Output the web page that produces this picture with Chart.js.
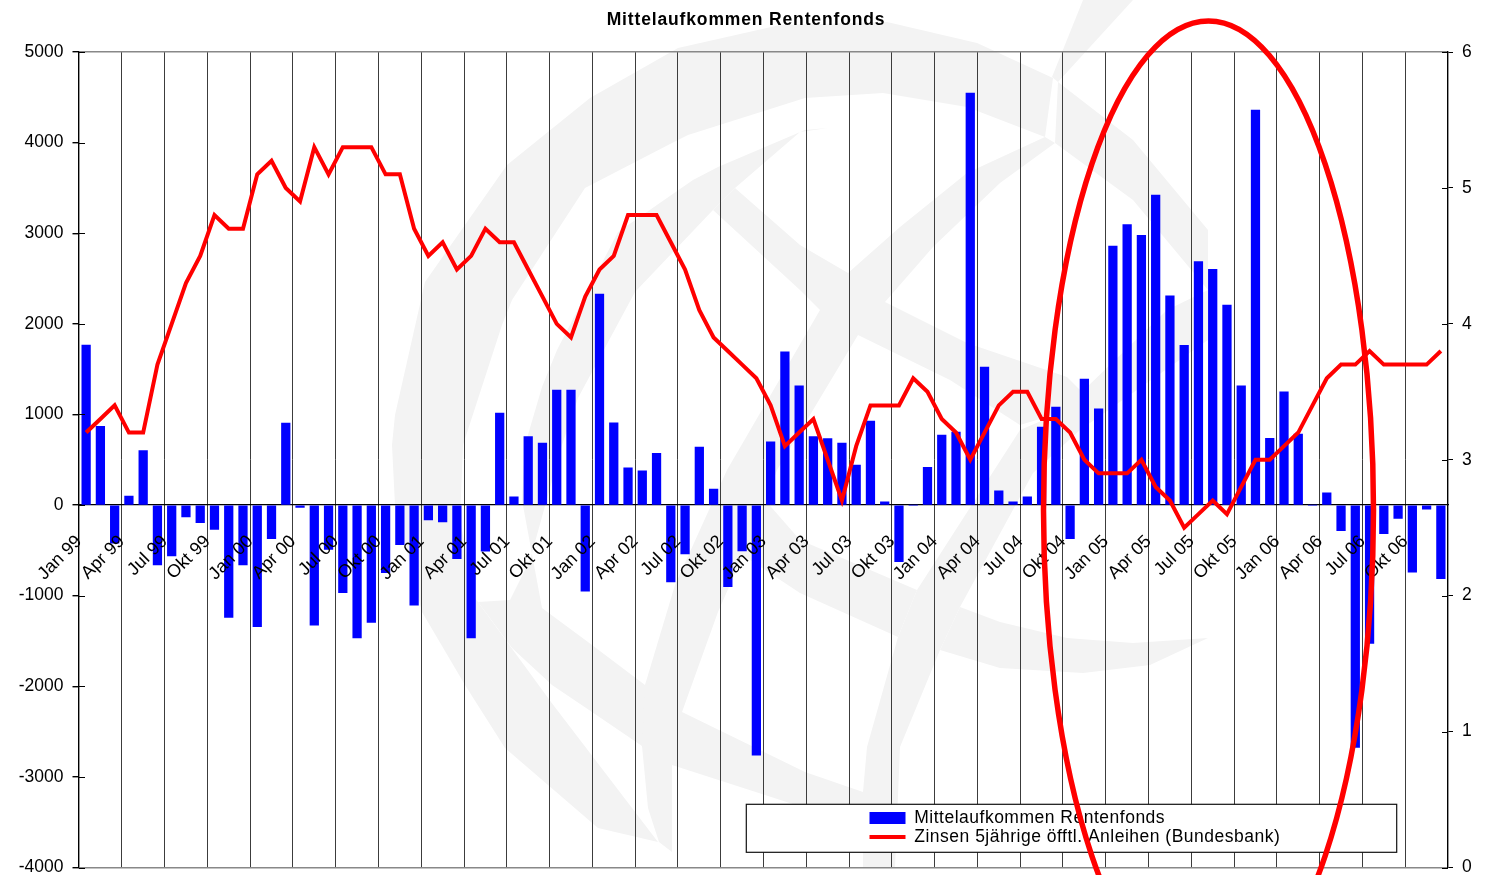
<!DOCTYPE html>
<html lang="de"><head><meta charset="utf-8"><title>Mittelaufkommen Rentenfonds</title>
<style>html,body{margin:0;padding:0;background:#fff}canvas{display:block}</style>
<script src="https://cdn.jsdelivr.net/npm/chart.js@4/dist/chart.umd.min.js"></script>
</head><body><canvas id="c" width="1485" height="875"></canvas>
<script>
const categories = [
 'Jan 99','Feb 99','Mrz 99','Apr 99','Mai 99','Jun 99','Jul 99','Aug 99','Sep 99','Okt 99','Nov 99','Dez 99',
 'Jan 00','Feb 00','Mrz 00','Apr 00','Mai 00','Jun 00','Jul 00','Aug 00','Sep 00','Okt 00','Nov 00','Dez 00',
 'Jan 01','Feb 01','Mrz 01','Apr 01','Mai 01','Jun 01','Jul 01','Aug 01','Sep 01','Okt 01','Nov 01','Dez 01',
 'Jan 02','Feb 02','Mrz 02','Apr 02','Mai 02','Jun 02','Jul 02','Aug 02','Sep 02','Okt 02','Nov 02','Dez 02',
 'Jan 03','Feb 03','Mrz 03','Apr 03','Mai 03','Jun 03','Jul 03','Aug 03','Sep 03','Okt 03','Nov 03','Dez 03',
 'Jan 04','Feb 04','Mrz 04','Apr 04','Mai 04','Jun 04','Jul 04','Aug 04','Sep 04','Okt 04','Nov 04','Dez 04',
 'Jan 05','Feb 05','Mrz 05','Apr 05','Mai 05','Jun 05','Jul 05','Aug 05','Sep 05','Okt 05','Nov 05','Dez 05',
 'Jan 06','Feb 06','Mrz 06','Apr 06','Mai 06','Jun 06','Jul 06','Aug 06','Sep 06','Okt 06','Nov 06','Dez 06'];
const mittelaufkommen = [
 1765,870,-420,100,600,-660,-560,-130,-195,-270,-1240,-660,
 -1343,-372,905,-25,-1325,-490,-968,-1465,-1295,-747,-438,-1105,
 -165,-185,-593,-1465,-508,1015,90,755,684,1270,1270,-950,
 2329,908,410,378,572,-847,-540,640,175,-900,-505,-2760,
 698,1692,1317,755,735,684,441,927,36,-626,0,417,
 772,805,4547,1523,158,36,92,860,1080,-372,1390,1063,
 2859,3094,2976,3422,2310,1762,2686,2601,2208,1317,4360,736,
 1250,784,0,136,-284,-2675,-1527,-317,-148,-742,-45,-813];
const zinsen = [
 3.2,3.3,3.4,3.2,3.2,3.7,4.0,4.3,4.5,4.8,4.7,4.7,
 5.1,5.2,5.0,4.9,5.3,5.1,5.3,5.3,5.3,5.1,5.1,4.7,
 4.5,4.6,4.4,4.5,4.7,4.6,4.6,4.4,4.2,4.0,3.9,4.2,
 4.4,4.5,4.8,4.8,4.8,4.6,4.4,4.1,3.9,3.8,3.7,3.6,
 3.4,3.1,3.2,3.3,3.0,2.7,3.1,3.4,3.4,3.4,3.6,3.5,
 3.3,3.2,3.0,3.2,3.4,3.5,3.5,3.3,3.3,3.2,3.0,2.9,
 2.9,2.9,3.0,2.8,2.7,2.5,2.6,2.7,2.6,2.8,3.0,3.0,
 3.1,3.2,3.4,3.6,3.7,3.7,3.8,3.7,3.7,3.7,3.7,3.8];
const seriesNames = ['Mittelaufkommen Rentenfonds','Zinsen 5jährige öfftl. Anleihen (Bundesbank)'];
const chartTitle = 'Mittelaufkommen Rentenfonds';

const FONT = "'Liberation Sans', Arial, sans-serif";
const legendBox = {left:746.3, top:804.3, right:1396.7, bottom:852.3};

// Faint background logo outlines
const watermark = [
 'M1053 78L977 43L887 22L780 25L678 48L590 98L507 165L425 282L395 415L392 445L395 505L422 612L465 685L505 748L598 828L658 842L551 702L475 598L460 520L463 445L502 325L512 300L585 188L672 143L688 135L805 98L883 93L967 107L1045 137Z',
 'M1058 82L1133 140L1208 230L1208 290L1133 200L1055 143Z',
 'M1083 0L1133 0L1058 82L1052 77Z',
 'M828 128L805 130L718 167L693 180L618 232L557 350L542 387L525 445L522 500L542 608L592 645L645 685L682 712L805 772L863 792L863 810L805 808L765 795L672 765L642 746L592 712L552 685L512 648L478 602L510 600L530 560L562 445L578 398L635 292L713 210L735 188L800 132Z',
 'M848 273L900 227L967 173L1045 137L1055 143L1000 183L933 247L885 302L858 335L777 470L762 512L718 612L682 712L672 765L672 852L659 842L648 808L642 746L645 685L675 585L727 470L820 310Z',
 'M735 188L800 245L848 273L885 302L967 343L1067 377L1085 395L1060 413L1020 425L950 380L858 335L820 310L800 290L713 210Z',
 'M1208 290L1167 310L1060 413L1020 430L917 590L898 637L867 747L863 792L863 868L895 868L900 747L940 650L960 607L1033 473L1080 430L1208 340Z',
 'M765 500L800 540L917 590L898 637L800 593L735 550Z',
 'M940 650L1000 668L1083 673L1150 665L1208 638L1133 643L1067 638L1000 622L960 607Z'
];

const zeroPadding = s => { s.paddingTop = s.paddingBottom = s.paddingLeft = s.paddingRight = 0; };

const artwork = {
 id:'artwork',
 beforeDraw(chart){
  const c = chart.ctx; c.save(); c.fillStyle='#f3f3f3';
  watermark.forEach(d=>c.fill(new Path2D(d)));
  c.restore();
 },
 beforeLayout(chart){
  const c = chart.ctx, lg = chart.legend, tt = chart.titleBlock;
  lg._layers = () => [{z:0.5, draw(){
    c.save(); c.fillStyle='#fff'; c.strokeStyle='#111'; c.lineWidth=1.2;
    c.fillRect(legendBox.left,legendBox.top,legendBox.right-legendBox.left,legendBox.bottom-legendBox.top);
    c.strokeRect(legendBox.left,legendBox.top,legendBox.right-legendBox.left,legendBox.bottom-legendBox.top);
    c.fillStyle='#000'; c.letterSpacing='0.5px'; lg.draw(); c.restore();
  }}];
  tt._layers = () => [{z:0, draw(){ c.save(); c.letterSpacing='0.85px'; tt.draw(); c.restore(); }}];
 },
 afterLayout(chart){
  const lg = chart.legend;
  lg.left = 868; lg.top = 807.75; lg.right = legendBox.right; lg.bottom = legendBox.bottom;
  lg.width = lg.right-lg.left; lg.height = lg.bottom-lg.top;
 },
 afterDraw(chart){
  const c = chart.ctx, a = chart.chartArea; c.save();
  // inward half of the axis tick marks
  c.strokeStyle='#000'; c.lineWidth=1;
  const inner = (scale,x0,x1)=>scale.ticks.forEach(t=>{const y=Math.round(scale.getPixelForValue(t.value))+.5;
     c.beginPath();c.moveTo(x0,y);c.lineTo(x1,y);c.stroke();});
  inner(chart.scales.y,a.left,a.left+6);
  inner(chart.scales.y1,a.right-6,a.right);
  // hand-drawn red ellipse annotation
  c.strokeStyle='#ff0000'; c.lineWidth=5.5;
  c.beginPath(); c.ellipse(1208.5,510,165,489,0,0,Math.PI*2); c.stroke();
  c.restore();
 }
};

new Chart(document.getElementById('c'),{
 data:{labels:categories,datasets:[
  {type:'bar',label:seriesNames[0],data:mittelaufkommen,backgroundColor:'#0000ff',barThickness:8.6,yAxisID:'y',order:2},
  {type:'line',label:seriesNames[1],data:zinsen,borderColor:'#ff0000',borderWidth:4,pointRadius:0,tension:0,yAxisID:'y1',order:1,borderJoinStyle:'miter'}
 ]},
 plugins:[artwork],
 options:{
  responsive:false,animation:false,events:[],
  layout:{autoPadding:false,padding:{left:7,right:0,top:0,bottom:7.5}},
  plugins:{
   tooltip:{enabled:false},
   title:{display:true,text:chartTitle,color:'#000',font:{family:FONT,size:17.5,weight:'bold',lineHeight:1.2},padding:{top:9.5,bottom:21.5}},
   legend:{display:true,position:'chartArea',align:'start',onClick:null,
    labels:{usePointStyle:true,pointStyleWidth:36,boxHeight:12,padding:1.5,color:'#000',font:{family:FONT,size:17.5,lineHeight:1},
     generateLabels:ch=>[
      {text:ch.data.datasets[0].label,fontColor:'#000',fillStyle:'#0000ff',strokeStyle:'#0000ff',lineWidth:0,pointStyle:'rect',hidden:false,datasetIndex:0},
      {text:ch.data.datasets[1].label,fontColor:'#000',fillStyle:'#ff0000',strokeStyle:'#ff0000',lineWidth:4,pointStyle:'line',hidden:false,datasetIndex:1}
     ]}}
  },
  scales:{
   x:{type:'category',offset:true,position:{y:0},
    afterFit(s){s.height=0;zeroPadding(s);},
    grid:{offset:true,drawTicks:false,lineWidth:1,color:ctx=>(ctx.index!==undefined&&ctx.index%3===0&&ctx.index>0)?'#3c3c3c':'rgba(0,0,0,0)'},
    border:{display:true,color:'#000',width:1.2},
    ticks:{autoSkip:false,minRotation:45,maxRotation:45,padding:26,labelOffset:-7,z:1,color:'#000',font:{family:FONT,size:18},
     callback(v,i){return i%3===0?this.getLabelForValue(v):'';}}},
   y:{type:'linear',position:'left',min:-4000,max:5000,
    afterFit(s){s.width=72;zeroPadding(s);},
    grid:{drawOnChartArea:true,tickLength:6.5,tickColor:'#000',lineWidth:1.4,color:ctx=>(ctx.tick&&(ctx.tick.value===5000||ctx.tick.value===-4000))?'#888':'rgba(0,0,0,0)'},
    border:{display:true,color:'#000',width:1.4},
    ticks:{stepSize:1000,padding:9,color:'#000',font:{family:FONT,size:17.5},callback:v=>String(v)}},
   y1:{type:'linear',position:'right',min:0,max:6,
    afterFit(s){s.width=37;zeroPadding(s);},
    grid:{drawOnChartArea:false,tickLength:5,tickColor:'#000'},
    border:{display:true,color:'#000',width:1.4},
    ticks:{stepSize:1,padding:9,color:'#000',font:{family:FONT,size:17.5},callback:v=>String(v)}}
  }
 }
});
</script></body></html>
